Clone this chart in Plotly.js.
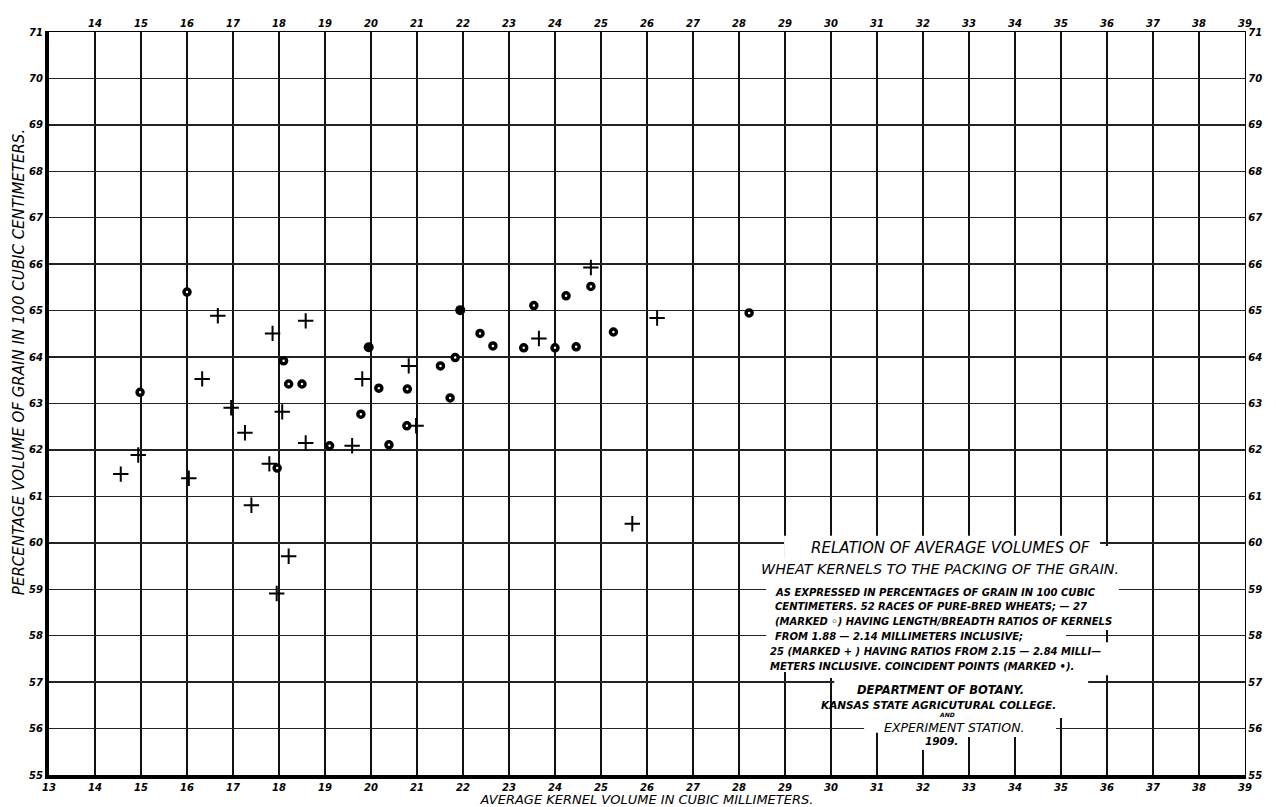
<!DOCTYPE html>
<html>
<head>
<meta charset="utf-8">
<script src="https://cdn.plot.ly/plotly-3.0.1.min.js"></script>
<style>html,body{margin:0;padding:0;background:#fff;}#chart{width:1276px;height:807px;}</style>
</head>
<body>
<div id="chart"></div>
<script>
// ---- data ----
// races with length/breadth ratio 1.88-2.14 (marked o)
const circleX = [14.98, 16.00, 17.96, 18.10, 18.21, 18.50, 19.10, 19.78, 20.17, 20.39, 20.78, 20.79, 21.51, 21.72, 21.83, 22.37, 22.65, 23.32, 23.54, 24.00, 24.24, 24.46, 24.78, 25.27, 28.22];
const circleY = [63.24, 65.40, 61.61, 63.92, 63.42, 63.42, 62.09, 62.77, 63.33, 62.11, 62.52, 63.31, 63.81, 63.12, 63.99, 64.51, 64.24, 64.20, 65.11, 64.20, 65.32, 64.22, 65.52, 64.54, 64.95];
// races with ratio 2.15-2.84 (marked +)
const plusX = [14.56, 14.94, 16.04, 16.33, 16.67, 16.96, 17.26, 17.40, 17.79, 17.86, 17.95, 18.07, 18.21, 18.58, 18.58, 19.59, 19.81, 20.82, 20.98, 23.65, 24.78, 25.68, 26.22];
const plusY = [61.48, 61.89, 61.39, 63.53, 64.89, 62.91, 62.37, 60.81, 61.70, 64.51, 58.91, 62.82, 59.71, 64.78, 62.15, 62.09, 63.53, 63.81, 62.52, 64.40, 65.93, 60.41, 64.84];
// coincident points (marked •)
const coincX = [19.95, 21.94];
const coincY = [64.21, 65.01];

// tick labels
const xTicksBottom = [13,14,15,16,17,18,19,20,21,22,23,24,25,26,27,28,29,30,31,32,33,34,35,36,37,38,39];
const xTicksTop = [14,15,16,17,18,19,20,21,22,23,24,25,26,27,28,29,30,31,32,33,34,35,36,37,38,39];
const yTicks = [55,56,57,58,59,60,61,62,63,64,65,66,67,68,69,70,71];

const xTitle = 'AVERAGE KERNEL VOLUME IN CUBIC MILLIMETERS.';
const yTitle = 'PERCENTAGE VOLUME OF GRAIN IN 100 CUBIC CENTIMETERS.';
const headLines = ['RELATION OF AVERAGE VOLUMES OF', 'WHEAT KERNELS TO THE PACKING OF THE GRAIN.'];
const bodyLines = [
  'AS EXPRESSED IN PERCENTAGES OF GRAIN IN 100 CUBIC',
  'CENTIMETERS. 52 RACES OF PURE-BRED WHEATS; — 27',
  '(MARKED ◦) HAVING LENGTH/BREADTH RATIOS OF KERNELS',
  'FROM 1.88 — 2.14 MILLIMETERS INCLUSIVE;',
  '25 (MARKED + ) HAVING RATIOS FROM 2.15 — 2.84 MILLI—',
  'METERS INCLUSIVE. COINCIDENT POINTS (MARKED •).'
];
const creditLines = ['DEPARTMENT OF BOTANY.', 'KANSAS STATE AGRICUTURAL COLLEGE.', 'AND', 'EXPERIMENT STATION.', '1909.'];

// ---- styling ----
const FAM = '"DejaVu Sans", "Liberation Sans", sans-serif';
const tickFont = {family: FAM, size: 10, color: '#000', style: 'italic', weight: 'bold'};

const traces = [
  {x: plusX, y: plusY, xaxis: 'x2', yaxis: 'y2', type: 'scatter', mode: 'markers', name: '+',
   marker: {symbol: 'cross-thin-open', size: 11, color: '#000', line: {color: '#000', width: 2}}, hoverinfo: 'x+y'},
  {x: circleX, y: circleY, type: 'scatter', mode: 'markers', name: 'o',
   marker: {symbol: 'circle', size: 6, color: '#fff', line: {color: '#000', width: 3.5}}, hoverinfo: 'x+y'},
  {x: coincX, y: coincY, type: 'scatter', mode: 'markers', name: '•',
   marker: {symbol: 'circle', size: 10, color: '#000', line: {width: 0}}, hoverinfo: 'x+y'}
];

// white area where the legend text interrupts the ruled grid
const maskPath = 'M28.98,60.15 L35.85,60.15 L35.85,59.93 L36.54,59.93 L36.54,59.20 L36.26,59.20 L36.26,58.77 ' +
  'L36.41,58.77 L36.41,58.12 L35.11,58.12 L35.11,57.86 L36.54,57.86 L36.54,57.15 L35.59,57.15 L35.59,56.23 ' +
  'L34.89,56.23 L34.89,55.82 L32.85,55.82 L32.85,55.54 L31.89,55.54 L31.89,55.91 L30.72,55.91 L30.72,56.19 ' +
  'L30.07,56.19 L30.07,57.09 L29.07,57.09 L29.07,57.22 L28.59,57.22 L28.59,59.20 L28.24,59.20 L28.24,59.67 ' +
  'L28.98,59.67 Z';

const shapes = [{type: 'path', xref: 'x', yref: 'y', path: maskPath, fillcolor: '#fff', line: {width: 0}, layer: 'between'}];

const annotations = [];
const headY = [59.89, 59.44];
const headX = [32.59, 32.37];
const headSize = [15, 14.3];
headLines.forEach((t, i) => annotations.push({
  text: t, x: headX[i], y: headY[i], xref: 'x', yref: 'y', showarrow: false, xanchor: 'center', yanchor: 'middle',
  font: {family: FAM, size: headSize[i], color: '#000', style: 'italic'}
}));
const bodyY = [58.94, 58.62, 58.30, 57.99, 57.67, 57.33];
const bodyX = [28.74, 28.74, 28.74, 28.74, 28.63, 28.63];
bodyLines.forEach((t, i) => annotations.push({
  text: t, x: bodyX[i], y: bodyY[i], xref: 'x', yref: 'y', showarrow: false, xanchor: 'left', yanchor: 'middle',
  font: {family: FAM, size: 10, color: '#000', style: 'italic', weight: 'bold'}
}));
const credY = [56.83, 56.51, 56.31, 56.03, 55.73];
const credX = [32.39, 32.33, 32.52, 32.67, 32.41];
const credSize = [11.5, 10.5, 6, 12.5, 10.5];
const credWeight = ['bold', 'bold', 'bold', 'normal', 'bold'];
creditLines.forEach((t, i) => annotations.push({
  text: t, x: credX[i], y: credY[i], xref: 'x', yref: 'y', showarrow: false, xanchor: 'center', yanchor: 'middle',
  font: {family: FAM, size: credSize[i], color: '#000', style: 'italic', weight: credWeight[i]}
}));
annotations.push({
  text: yTitle, textangle: -90, xref: 'paper', yref: 'paper', x: -0.0255, y: 0.555,
  xanchor: 'center', yanchor: 'middle', showarrow: false,
  font: {family: FAM, size: 15, color: '#000', style: 'italic'}
});

const axisCommon = {zeroline: false, ticks: '', fixedrange: true, tickfont: tickFont, tickmode: 'array'};

const layout = {
  width: 1276, height: 807,
  margin: {l: 49, r: 31, t: 32, b: 32, pad: 0},
  paper_bgcolor: '#fff', plot_bgcolor: '#fff',
  showlegend: false,
  xaxis: Object.assign({}, axisCommon, {
    range: [13, 39], tickvals: xTicksBottom, ticktext: xTicksBottom.map(String),
    showgrid: true, gridcolor: '#111', gridwidth: 1.8,
    showline: true, linecolor: '#000', linewidth: 4,
    automargin: false,
    title: {text: xTitle, standoff: 3, font: {family: FAM, size: 13, color: '#000', style: 'italic'}}
  }),
  yaxis: Object.assign({}, axisCommon, {
    range: [55, 71], tickvals: yTicks, ticktext: yTicks.map(String),
    showgrid: true, gridcolor: '#222', gridwidth: 1.4,
    showline: true, linecolor: '#000', linewidth: 4, automargin: false
  }),
  xaxis2: Object.assign({}, axisCommon, {
    overlaying: 'x', side: 'top', anchor: 'y2',
    range: [13, 39], tickvals: xTicksTop, ticktext: xTicksTop.map(String),
    showgrid: false, showline: true, linecolor: '#000', linewidth: 1.2, automargin: false
  }),
  yaxis2: Object.assign({}, axisCommon, {
    overlaying: 'y', side: 'right', anchor: 'x2',
    range: [55, 71], tickvals: yTicks, ticktext: yTicks.map(String),
    showgrid: false, showline: true, linecolor: '#000', linewidth: 1.2, automargin: false
  }),
  shapes: shapes,
  annotations: annotations
};

Plotly.newPlot('chart', traces, layout, {displayModeBar: false, staticPlot: true});
</script>
</body>
</html>
